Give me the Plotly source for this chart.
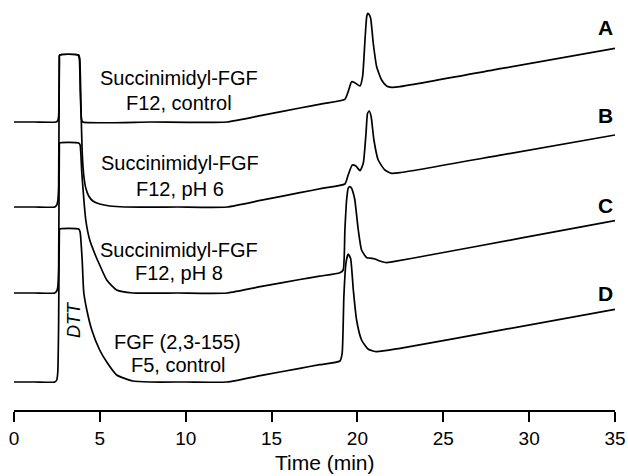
import plotly.graph_objects as go

# ---- data (time in min, detector response in arbitrary units above each trace's baseline) ----
trace_labels = ["A", "B", "C", "D"]
trace_offsets = [288, 203, 117, 28]   # vertical stacking of the chromatograms

time_A = [0, 1.2, 2.45, 2.55, 2.60, 2.64, 2.66, 3.72, 3.80, 3.86, 3.93, 4.00, 8.0, 12.4, 14.5, 16.65,
          18.0, 19.27, 19.46, 19.66, 19.85, 20.15, 20.30, 20.44, 20.54, 20.60, 20.66, 20.77, 20.92,
          21.12, 21.41, 21.70, 21.99, 22.48, 28.5, 35.0]
resp_A = [0, 0, 0, 1.5, 6, 60, 67, 67, 64, 30, 3, 0, 0, 0, 6.9, 14,
          18.4, 22.7, 30.3, 40.3, 39.3, 36, 45.3, 82, 105.3, 108.7, 108, 103.7, 79,
          55.3, 42, 36, 34.7, 35.3, 53.8, 73.7]

time_B = [0, 1.2, 2.37, 2.49, 2.55, 2.60, 2.64, 2.66, 3.77, 3.83, 3.90, 3.97, 4.06, 4.18, 4.35, 4.59,
          4.99, 5.58, 6.45, 9.5, 12.4, 14.5, 16.65, 18.0, 19.27, 19.46, 19.70, 19.91, 20.15, 20.34,
          20.50, 20.59, 20.69, 20.80, 20.96, 21.21, 21.60, 21.99, 22.48, 28.5, 35.0]
resp_B = [0, 0, 0, 2, 6, 20, 148, 152, 152, 148, 100, 55, 32, 19, 11, 6,
          3, 1, 0, 0, 0, 7.1, 14.3, 18.8, 23, 32, 42, 41, 36.3, 43.7,
          73.7, 93.7, 96, 90.3, 67, 47, 37, 33.7, 34.3, 52.4, 72]

time_C = [0, 1.2, 2.37, 2.49, 2.55, 2.60, 2.64, 2.66, 3.77, 3.85, 3.95, 4.18, 4.41, 4.76, 4.99, 5.40,
          5.98, 6.92, 9.5, 12.4, 14.5, 16.65, 17.8, 18.98, 19.17, 19.27, 19.37, 19.46, 19.56, 19.66,
          19.76, 19.85, 20.05, 20.24, 20.54, 20.83, 21.02, 21.31, 21.70, 22.09, 24.22, 29.5, 35.0]
resp_C = [0, 0, 0, 2, 6, 25, 146, 150, 150, 148, 120, 73, 53, 37, 28, 13,
          3, 0, 0, 0, 6.8, 13.5, 16.8, 20.3, 23, 63, 93, 104.7, 106.3, 104.7,
          99.7, 93, 63, 43, 35.3, 34.7, 34, 32, 30.3, 31.3, 38, 54.8, 72.3]

time_D = [0, 1.2, 2.37, 2.49, 2.55, 2.60, 2.64, 2.66, 3.77, 3.85, 3.97, 4.06, 4.24, 4.53, 4.99, 5.40,
          5.98, 6.92, 7.91, 10.0, 12.4, 14.5, 16.65, 17.8, 18.98, 19.11, 19.21, 19.33, 19.46, 19.60,
          19.76, 19.95, 20.24, 20.63, 21.12, 22.48, 28.5, 35.0]
resp_D = [0, 0, 0, 2, 10, 60, 150, 153, 153, 150, 122, 90, 72, 52, 32, 20,
          7, 1, 0, 0, 0, 6.9, 13.7, 17.3, 21, 28.7, 85.3, 118.7, 128, 123.7,
          92, 62, 42, 32.7, 30.3, 33.7, 52.4, 72.7]

sample_lines = [["Succinimidyl-FGF", "F12, control"],
                ["Succinimidyl-FGF", "F12, pH 6"],
                ["Succinimidyl-FGF", "F12, pH 8"],
                ["FGF (2,3-155)", "F5, control"]]

x_ticks = [0, 5, 10, 15, 20, 25, 30, 35]
x_title = "Time (min)"
dtt_label = "DTT"

times = [time_A, time_B, time_C, time_D]
resps = [resp_A, resp_B, resp_C, resp_D]

FONT = "Liberation Sans, Arial, Helvetica, sans-serif"

fig = go.Figure()
for t, r, off, lab in zip(times, resps, trace_offsets, trace_labels):
    fig.add_trace(go.Scatter(x=t, y=[v + off for v in r], mode="lines",
                             line=dict(color="black", width=1.7, shape="spline", smoothing=0.5),
                             name=lab, showlegend=False, hoverinfo="skip"))

annotations = []
# sample descriptions (two lines each)
label_pos = [(9.6, 332, 307), (9.65, 247, 221), (9.6, 160, 137), (9.54, 68, 45)]
for (x, y1, y2), lines in zip(label_pos, sample_lines):
    annotations.append(dict(x=x, y=y1, text=lines[0], showarrow=False,
                            font=dict(size=20, family=FONT, color="black")))
    annotations.append(dict(x=x, y=y2, text=lines[1], showarrow=False,
                            font=dict(size=20, family=FONT, color="black")))
# panel letters
letter_y = [383, 295, 205, 117]
for lab, y in zip(trace_labels, letter_y):
    annotations.append(dict(x=34.45, y=y, text="<b>" + lab + "</b>", showarrow=False,
                            font=dict(size=21, family=FONT, color="black")))
# DTT label
annotations.append(dict(x=3.5, y=90, text="<i>" + dtt_label + "</i>", showarrow=False,
                        textangle=-90, font=dict(size=18, family=FONT, color="black")))
# axis title
annotations.append(dict(x=18.1, y=-0.129, xref="x", yref="paper", text=x_title,
                        showarrow=False, yanchor="middle",
                        font=dict(size=21, family=FONT, color="black")))

fig.update_layout(
    width=628, height=476,
    margin=dict(l=14, r=13, t=0, b=66),
    paper_bgcolor="white", plot_bgcolor="white",
    annotations=annotations,
    xaxis=dict(range=[0, 35], tickvals=x_ticks, ticks="outside", ticklen=10,
               tickwidth=1.5, tickcolor="black", showline=True, linecolor="black",
               linewidth=1.6, showgrid=False, zeroline=False,
               tickfont=dict(size=19, family=FONT, color="black")),
    yaxis=dict(range=[0, 410], visible=False, showgrid=False, zeroline=False),
)

fig.write_html("out.html")
